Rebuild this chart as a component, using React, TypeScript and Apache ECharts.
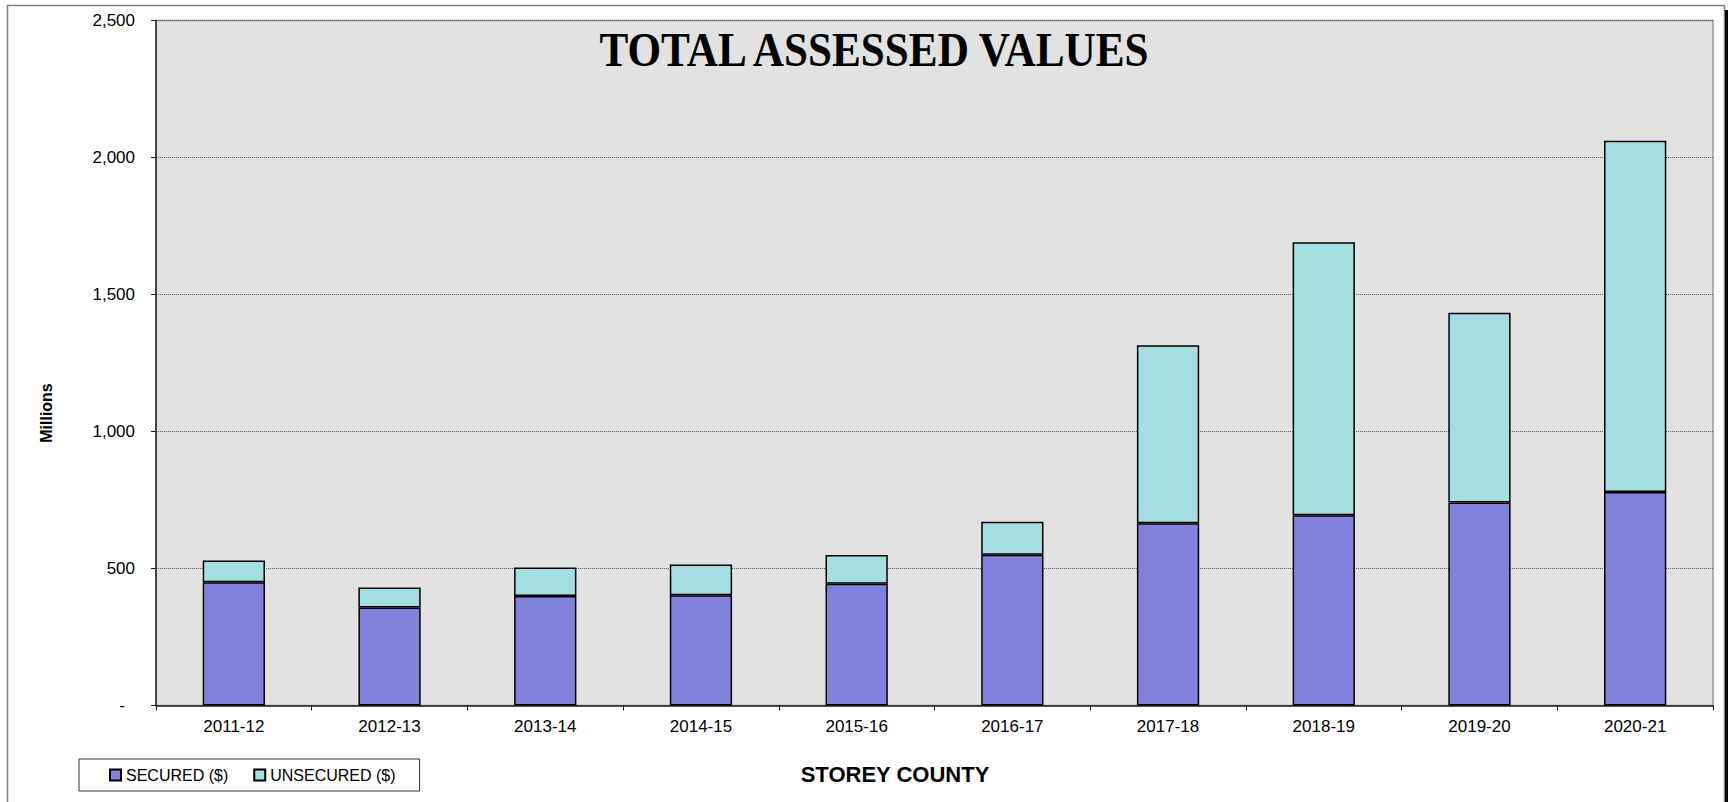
import React, { useEffect, useRef } from "react";
import * as echarts from "echarts";

const categories = ["2011-12", "2012-13", "2013-14", "2014-15", "2015-16", "2016-17", "2017-18", "2018-19", "2019-20", "2020-21"];
const secured = [450, 358, 400, 402, 444, 550, 665, 694, 741, 779];
const unsecured = [79, 73, 104, 113, 105, 121, 650, 997, 692, 1282];
const yTicks = { min: 0, max: 2500, interval: 500 };
const seriesNames = ["SECURED ($)", "UNSECURED ($)"];

const SANS = '"Liberation Sans", Arial, sans-serif';

export default function App() {
  const ref = useRef<HTMLDivElement>(null);
  useEffect(() => {
    if (!ref.current) return;
    const chart = echarts.init(ref.current, null, { renderer: "svg" });
    chart.setOption({
      animation: false,
      backgroundColor: "#ffffff",
      textStyle: { fontFamily: SANS },
      grid: {
        left: 156,
        top: 20.5,
        width: 1557,
        height: 685,
        show: true,
        backgroundColor: "#e2e2e2",
        borderColor: "#9a9a9a",
        borderWidth: 1.5,
      },
      legend: {
        left: 79,
        top: 759,
        orient: "horizontal",
        padding: [8, 24, 8, 30],
        itemGap: 25,
        itemWidth: 11,
        itemHeight: 11,
        icon: "rect",
        borderColor: "#333",
        borderWidth: 1,
        backgroundColor: "#fff",
        textStyle: { fontSize: 16, color: "#000", fontFamily: SANS },
        data: seriesNames,
      },
      xAxis: {
        type: "category",
        data: categories,
        boundaryGap: true,
        axisLine: { show: true, lineStyle: { color: "#222", width: 1.5 } },
        axisTick: { show: true, length: 5, alignWithLabel: false, lineStyle: { color: "#222" } },
        axisLabel: { color: "#000", fontSize: 17, margin: 12, fontFamily: SANS },
        splitLine: { show: false },
      },
      yAxis: {
        type: "value",
        min: yTicks.min,
        max: yTicks.max,
        interval: yTicks.interval,
        axisLine: { show: true, lineStyle: { color: "#222", width: 1.5 } },
        axisTick: { show: true, length: 5, inside: false, lineStyle: { color: "#222" } },
        axisLabel: {
          color: "#000",
          fontSize: 17,
          margin: 21,
          fontFamily: SANS,
          formatter: (v: number) => (v === 0 ? "{d|-}" : v.toLocaleString("en-US")),
          rich: { d: { fontSize: 17, color: "#000", padding: [0, 10, 0, 0] } },
        },
        splitLine: { show: true, lineStyle: { color: "#555", type: "dotted", width: 1 } },
      },
      series: [
        {
          name: seriesNames[0],
          type: "bar",
          stack: "total",
          barWidth: "40%",
          data: secured,
          itemStyle: { color: "#8282dc", borderColor: "#000", borderWidth: 1.5 },
        },
        {
          name: seriesNames[1],
          type: "bar",
          stack: "total",
          barWidth: "40%",
          data: unsecured,
          itemStyle: { color: "#a3dfe0", borderColor: "#000", borderWidth: 1.5 },
        },
      ],
      graphic: [
        {
          type: "rect",
          silent: true,
          z: -10,
          shape: { x: 7.5, y: 5.5, width: 1717, height: 900 },
          style: { fill: "none", stroke: "#808080", lineWidth: 1.5 },
        },
        {
          type: "rect",
          silent: true,
          shape: { x: 1725, y: 10, width: 3, height: 800 },
          style: { fill: "#000" },
        },
        {
          type: "text",
          x: 874,
          y: 50,
          scaleX: 0.9,
          style: {
            text: "TOTAL ASSESSED VALUES",
            font: 'bold 48px "Liberation Serif", "Times New Roman", serif',
            fill: "#000",
            textAlign: "center",
            textVerticalAlign: "middle",
          },
          z: 100,
        },
        {
          type: "text",
          x: 46,
          y: 413,
          rotation: Math.PI / 2,
          style: {
            text: "Millions",
            font: `bold 16px ${SANS}`,
            fill: "#000",
            textAlign: "center",
            textVerticalAlign: "middle",
          },
        },
        {
          type: "text",
          x: 895,
          y: 774,
          style: {
            text: "STOREY COUNTY",
            font: `bold 22px ${SANS}`,
            fill: "#000",
            textAlign: "center",
            textVerticalAlign: "middle",
          },
        },
      ],
    });
    return () => chart.dispose();
  }, []);
  return (
    <div
      ref={ref}
      style={{ position: "absolute", left: 0, top: 0, width: 1728, height: 802 }}
    />
  );
}
